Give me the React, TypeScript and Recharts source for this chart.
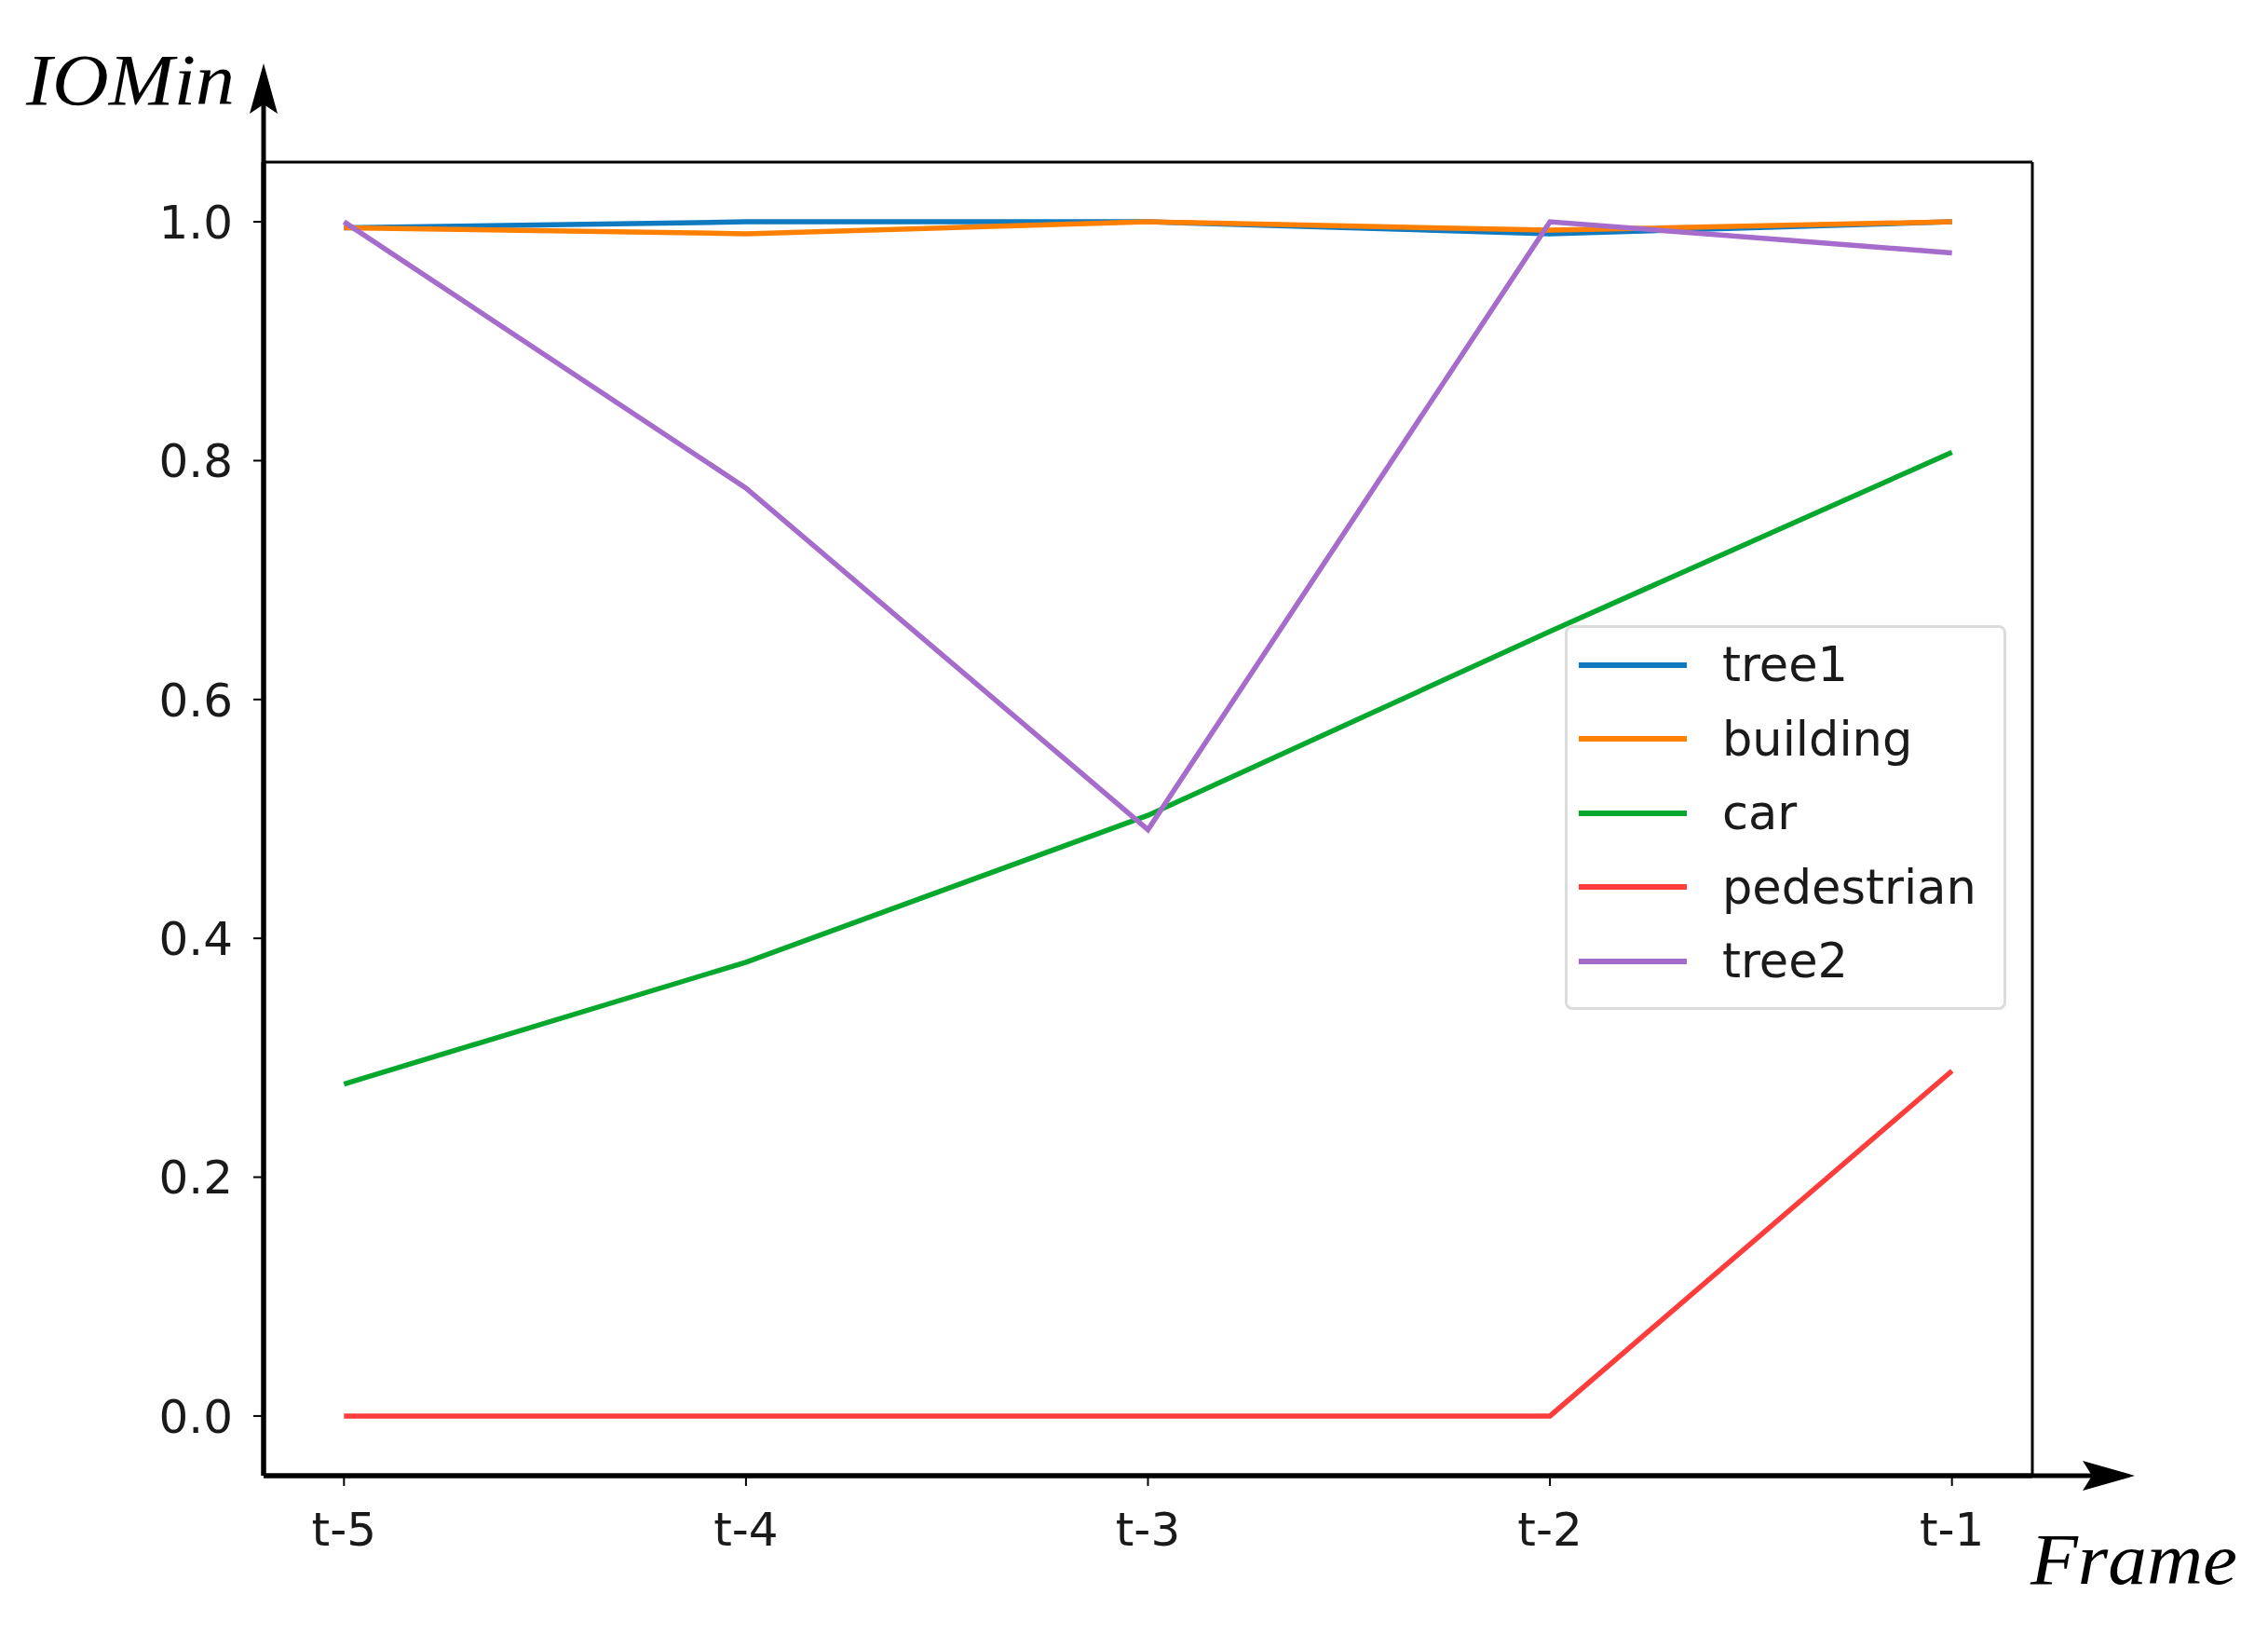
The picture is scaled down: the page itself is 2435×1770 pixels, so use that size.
import React from 'react';
import { LineChart, Line, XAxis, YAxis, Legend, ReferenceLine } from 'recharts';

// frame labels along the x axis
const frames = ['t-5', 't-4', 't-3', 't-2', 't-1'];

// IOMin per object
const tree1 = [0.995, 1.0, 1.0, 0.99, 1.0];
const building = [0.995, 0.99, 1.0, 0.993, 1.0];
const car = [0.278, 0.38, 0.503, 0.657, 0.807];
const pedestrian = [0, 0, 0, 0, 0.289];
const tree2 = [1.0, 0.777, 0.491, 1.0, 0.974];

const yTicks = [0, 0.2, 0.4, 0.6, 0.8, 1.0];

const series = [
  { key: 'tree1', name: 'tree1', color: '#0f7abf' },
  { key: 'building', name: 'building', color: '#ff8000' },
  { key: 'car', name: 'car', color: '#08a82e' },
  { key: 'pedestrian', name: 'pedestrian', color: '#ff3c3c' },
  { key: 'tree2', name: 'tree2', color: '#a66ccb' },
];

const data = frames.map((f, i) => ({
  idx: i,
  frame: f,
  tree1: tree1[i],
  building: building[i],
  car: car[i],
  pedestrian: pedestrian[i],
  tree2: tree2[i],
}));

const W = 2435;
const H = 1770;
// plot area edges
const LEFT = 283;
const RIGHT = 2182;
const TOP = 174;
const BOTTOM = 1584;
const Y_AXIS_W = 200;
const X_AXIS_H = 100;

const tickFont = { fontFamily: 'DejaVu Sans', fontSize: 50, fill: '#1a1a1a' };

const LegendBox = () => (
  <div
    style={{
      width: 474,
      height: 413,
      boxSizing: 'border-box',
      border: '3px solid #dcdcdc',
      borderRadius: 8,
      background: '#fff',
      paddingTop: 0,
      fontFamily: 'DejaVu Sans',
      fontSize: 51,
      color: '#1a1a1a',
    }}
  >
    {series.map((s) => (
      <div key={s.key} style={{ display: 'flex', alignItems: 'center', height: 79.5 }}>
        <div style={{ width: 116, height: 6, background: s.color, marginLeft: 12 }} />
        <span style={{ marginLeft: 38, lineHeight: 1 }}>{s.name}</span>
      </div>
    ))}
  </div>
);

export default function App() {
  return (
    <div style={{ position: 'absolute', left: 0, top: 0, width: W, height: H, background: '#fff' }}>
      <LineChart
        width={W}
        height={H}
        data={data}
        margin={{ top: TOP, right: W - RIGHT, left: LEFT - Y_AXIS_W, bottom: H - BOTTOM - X_AXIS_H }}
      >
        <XAxis
          dataKey="idx"
          type="number"
          domain={[-0.2, 4.2]}
          ticks={[0, 1, 2, 3, 4]}
          tickFormatter={(v: number) => frames[v]}
          height={X_AXIS_H}
          axisLine={{ stroke: '#000', strokeWidth: 5 }}
          tickLine={{ stroke: '#000', strokeWidth: 2 }}
          tickSize={11}
          tickMargin={28}
          tick={tickFont}
          allowDataOverflow
        />
        <YAxis
          type="number"
          domain={[-0.05, 1.05]}
          ticks={yTicks}
          tickFormatter={(v: number) => v.toFixed(1)}
          width={Y_AXIS_W}
          axisLine={{ stroke: '#000', strokeWidth: 5 }}
          tickLine={{ stroke: '#000', strokeWidth: 2 }}
          tickSize={11}
          tickMargin={22}
          tick={tickFont}
          allowDataOverflow
        />
        <ReferenceLine y={1.05} stroke="#000" strokeWidth={3} ifOverflow="extendDomain" />
        <ReferenceLine x={4.2} stroke="#000" strokeWidth={3} ifOverflow="extendDomain" />
        {series.map((s) => (
          <Line
            key={s.key}
            type="linear"
            dataKey={s.key}
            name={s.name}
            stroke={s.color}
            strokeWidth={5.5}
            dot={false}
            activeDot={false}
            isAnimationActive={false}
          />
        ))}
        <Legend
          layout="horizontal"
          verticalAlign="middle"
          content={<LegendBox />}
          wrapperStyle={{ position: 'absolute', left: 1680, top: 671, width: 474, height: 413 }}
        />
      </LineChart>
      {/* axis arrows and axis titles */}
      <svg
        width={W}
        height={H}
        style={{ position: 'absolute', left: 0, top: 0, pointerEvents: 'none' }}
      >
        <line x1={LEFT} y1={BOTTOM} x2={LEFT} y2={110} stroke="#000" strokeWidth={5} />
        <polygon points={`${LEFT},68 ${LEFT - 15},122 ${LEFT},112 ${LEFT + 15},122`} fill="#000" />
        <line x1={LEFT} y1={BOTTOM} x2={2250} y2={BOTTOM} stroke="#000" strokeWidth={5} />
        <polygon
          points={`2292,${BOTTOM} 2236,${BOTTOM - 16} 2246,${BOTTOM} 2236,${BOTTOM + 16}`}
          fill="#000"
        />
        <text
          x={28}
          y={112}
          fontFamily="Liberation Serif"
          fontStyle="italic"
          fontSize={78}
          textLength={224}
          lengthAdjust="spacingAndGlyphs"
          fill="#000"
        >
          IOMin
        </text>
        <text
          x={2180}
          y={1700}
          fontFamily="Liberation Serif"
          fontStyle="italic"
          fontSize={78}
          textLength={222}
          lengthAdjust="spacingAndGlyphs"
          fill="#000"
        >
          Frame
        </text>
      </svg>
    </div>
  );
}
